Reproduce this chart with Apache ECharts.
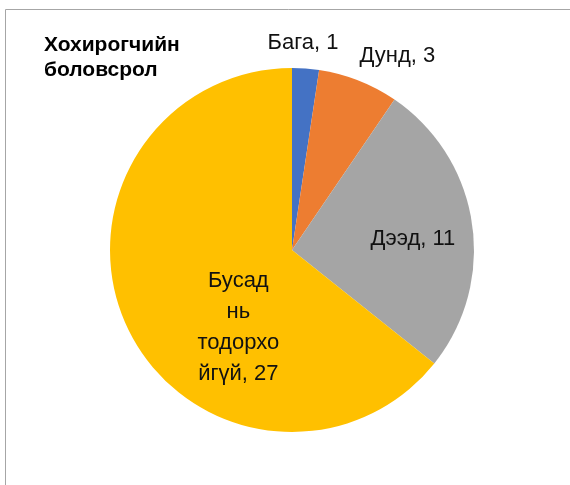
<!DOCTYPE html>
<html>
<head>
    <meta charset="utf-8">
    <title>Хохирогчийн боловсрол</title>
    <script src="https://cdn.jsdelivr.net/npm/echarts@6/dist/echarts.min.js"></script>
    <style>
        html, body { margin: 0; padding: 0; background: #fff; }
        #chart1 { width: 570px; height: 485px; }
    </style>
</head>
<body>
<div id="chart1"></div>
<script type="text/javascript">
    // data
    var categories = ['Бага', 'Дунд', 'Дээд', 'Бусад нь тодорхой йгүй'];
    var labelText = ['Бага, 1', 'Дунд, 3', 'Дээд, 11', 'Бусад\nнь\nтодорхо\nйгүй, 27'];
    var counts = [1, 3, 11, 27];
    var colors = ['#4472C4', '#ED7D31', '#A5A5A5', '#FFC000'];

    // label nudges from the default inside position (dx, dy)
    var labelShift = [[4, -113], [71, -107], [28, 3], [31, 37]];

    var seriesData = categories.map(function (name, i) {
        return {
            name: name,
            value: counts[i],
            itemStyle: { color: colors[i] },
            label: { formatter: labelText[i] }
        };
    });

    var myChart1 = echarts.init(document.getElementById('chart1'));
    myChart1.setOption({
        animation: false,
        title: {
            text: 'Хохирогчийн\nболовсрол',
            left: 44,
            top: 33,
            padding: 0,
            textStyle: {
                fontFamily: 'Liberation Sans',
                fontSize: 21,
                fontWeight: 'bold',
                lineHeight: 25,
                color: '#000'
            }
        },
        graphic: [{
            type: 'rect',
            silent: true,
            shape: { x: 5.5, y: 9.5, width: 700, height: 600 },
            style: { fill: 'none', stroke: '#a6a6a6', lineWidth: 1 }
        }],
        series: [{
            type: 'pie',
            center: [292, 250],
            radius: 182,
            startAngle: 90,
            clockwise: true,
            itemStyle: { borderWidth: 0 },
            label: {
                show: true,
                position: 'inside',
                fontFamily: 'Liberation Sans',
                fontSize: 22,
                lineHeight: 31,
                color: '#111',
                align: 'center'
            },
            labelLine: { show: false },
            labelLayout: function (params) {
                var s = labelShift[params.dataIndex];
                return { dx: s[0], dy: s[1] };
            },
            data: seriesData
        }]
    });
</script>
</body>
</html>
